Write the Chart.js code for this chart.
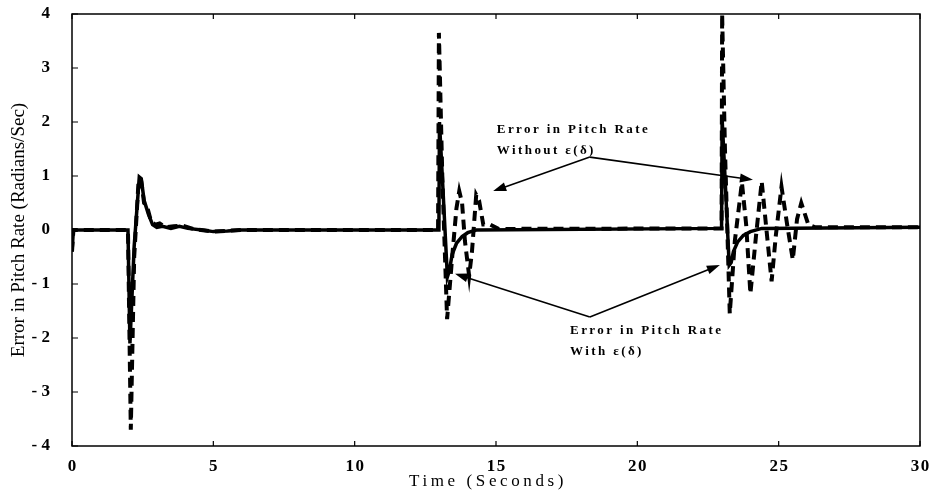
<!DOCTYPE html>
<html>
<head>
<meta charset="utf-8">
<script src="https://cdn.jsdelivr.net/npm/chart.js@4.4.1/dist/chart.umd.min.js"></script>
<style>
  html, body { margin: 0; padding: 0; background: #fff; }
  #wrap { width: 930px; height: 495px; }
</style>
</head>
<body>
<div id="wrap"><canvas id="pitchChart"></canvas></div>
<script>
// error in pitch rate, with the epsilon(delta) term (solid)
const timeWith = [0, 0.05, 1.98, 2.05, 2.2, 2.38, 2.45, 2.55, 2.7, 2.85, 3.0, 3.2, 3.5, 3.8, 4.1, 4.6, 5.0, 5.5, 6.0,
  12.98, 13.0, 13.1, 13.28, 13.35, 13.45, 13.6, 13.8, 14.0, 14.3,
  22.98, 23.0, 23.1, 23.25, 23.32, 23.4, 23.55, 23.75, 24.0, 24.4, 30];
const errWith = [-0.4, 0, 0, -2.1, -0.3, 0.98, 0.95, 0.55, 0.3, 0.1, 0.05, 0.07, 0.03, 0.07, 0.03, 0, -0.03, -0.02, 0,
  0, 2.0, 1.0, -0.87, -0.75, -0.45, -0.25, -0.12, -0.05, 0,
  0.03, 2.05, 1.0, -0.65, -0.6, -0.4, -0.22, -0.1, -0.03, 0.03, 0.05];

// error in pitch rate, without the epsilon(delta) term (dashed)
const timeWithout = [0, 0.05, 1.98, 2.08, 2.2, 2.36, 2.45, 2.55, 2.65, 2.8, 2.95, 3.1, 3.3, 3.6, 3.9, 4.3, 5.0, 6.0,
  12.95, 12.98, 13.1, 13.27, 13.45, 13.6, 13.7, 13.8, 13.9, 14.05, 14.15, 14.3, 14.4, 14.55, 14.8, 15.1,
  22.98, 23.0, 23.1, 23.27, 23.45, 23.7, 23.85, 24.0, 24.2, 24.4, 24.55, 24.75, 24.9, 25.1, 25.3, 25.5, 25.65, 25.8, 26.05, 26.3, 30];
const errWithout = [-0.4, 0, 0, -3.7, -0.5, 0.95, 0.9, 0.5, 0.45, 0.15, 0.1, 0.12, 0.05, 0.07, 0.08, 0.02, -0.03, 0,
  0, 3.65, 1.0, -1.65, -0.5, 0.4, 0.72, 0.5, -0.2, -0.85, -0.4, 0.65, 0.55, 0.1, 0.1, 0.02,
  0.03, 4.0, 1.5, -1.55, -0.2, 0.88, 0.1, -1.18, -0.1, 0.9, 0.1, -0.95, -0.1, 0.8, 0.1, -0.55, 0.2, 0.5, 0.1, 0.05, 0.05];

const xTicks = [0, 5, 10, 15, 20, 25, 30];
const yTicks = [-4, -3, -2, -1, 0, 1, 2, 3, 4];

const toPoints = (xs, ys) => xs.map((x, i) => ({ x: x, y: ys[i] }));

// callouts, anchored in data units
const callouts = [
  { lines: ['Error in Pitch Rate', 'Without \u03b5(\u03b4)'], textAt: [15.03, 1.85], from: [18.32, 1.35],
    to: [[14.9, 0.72], [24.09, 0.93]] },
  { lines: ['Error in Pitch Rate', 'With \u03b5(\u03b4)'], textAt: [17.62, -1.87], from: [18.32, -1.61],
    to: [[13.55, -0.81], [22.92, -0.65]] }
];

const frameAndNotes = {
  id: 'frameAndNotes',
  afterDatasetsDraw(chart) {
    const ctx = chart.ctx;
    const a = chart.chartArea;
    const xs = chart.scales.x, ys = chart.scales.y;
    ctx.save();
    ctx.strokeStyle = '#000';
    ctx.fillStyle = '#000';
    ctx.lineWidth = 1.5;
    ctx.strokeRect(a.left, a.top, a.right - a.left, a.bottom - a.top);
    // inward ticks
    ctx.lineWidth = 1.2;
    ctx.beginPath();
    xTicks.forEach(v => {
      const px = xs.getPixelForValue(v);
      ctx.moveTo(px, a.bottom); ctx.lineTo(px, a.bottom - 5);
      ctx.moveTo(px, a.top); ctx.lineTo(px, a.top + 5);
    });
    yTicks.forEach(v => {
      const py = ys.getPixelForValue(v);
      ctx.moveTo(a.left, py); ctx.lineTo(a.left + 6, py);
    });
    ctx.stroke();

    // callouts
    ctx.lineWidth = 1.6;
    callouts.forEach(c => {
      const fx = xs.getPixelForValue(c.from[0]), fy = ys.getPixelForValue(c.from[1]);
      c.to.forEach(t => {
        const tx = xs.getPixelForValue(t[0]), ty = ys.getPixelForValue(t[1]);
        const ang = Math.atan2(ty - fy, tx - fx);
        ctx.beginPath();
        ctx.moveTo(fx, fy);
        ctx.lineTo(tx - 8 * Math.cos(ang), ty - 8 * Math.sin(ang));
        ctx.stroke();
        ctx.beginPath();
        ctx.moveTo(tx, ty);
        ctx.lineTo(tx - 13 * Math.cos(ang) + 4.5 * Math.sin(ang), ty - 13 * Math.sin(ang) - 4.5 * Math.cos(ang));
        ctx.lineTo(tx - 13 * Math.cos(ang) - 4.5 * Math.sin(ang), ty - 13 * Math.sin(ang) + 4.5 * Math.cos(ang));
        ctx.closePath();
        ctx.fill();
      });
      ctx.font = 'bold 13px "Liberation Serif", serif';
      ctx.letterSpacing = '2.4px';
      ctx.textBaseline = 'middle';
      ctx.textAlign = 'left';
      const lx = xs.getPixelForValue(c.textAt[0]), ly = ys.getPixelForValue(c.textAt[1]);
      c.lines.forEach((s, i) => ctx.fillText(s, lx, ly + i * 21));
    });

    // x axis title, letter spaced like the original
    ctx.font = '17px "Liberation Serif", serif';
    ctx.letterSpacing = '3.6px';
    ctx.textAlign = 'center';
    ctx.textBaseline = 'middle';
    ctx.fillText('Time (Seconds)', (a.left + a.right) / 2 - 8, a.bottom + 36);
    ctx.restore();
  }
};

new Chart(document.getElementById('pitchChart'), {
  type: 'line',
  data: {
    datasets: [
      {
        label: 'With \u03b5(\u03b4)',
        data: toPoints(timeWith, errWith),
        borderColor: '#000',
        borderWidth: 3.5,
        pointRadius: 0,
        tension: 0,
        fill: false
      },
      {
        label: 'Without \u03b5(\u03b4)',
        data: toPoints(timeWithout, errWithout),
        borderColor: '#000',
        borderWidth: 4,
        borderDash: [10, 6],
        pointRadius: 0,
        tension: 0,
        fill: false
      }
    ]
  },
  options: {
    responsive: true,
    maintainAspectRatio: false,
    animation: false,
    layout: { padding: { left: 0, right: 0, top: 0, bottom: 0 } },
    plugins: {
      legend: { display: false },
      tooltip: { enabled: false }
    },
    scales: {
      x: {
        type: 'linear',
        min: 0,
        max: 30,
        afterBuildTicks: s => { s.ticks = xTicks.map(v => ({ value: v })); },
        afterFit: s => { s.height = 49; s.paddingRight = 10; s.paddingLeft = 0; },
        grid: { display: false, drawTicks: false },
        border: { display: false },
        ticks: {
          color: '#000',
          padding: 10,
          maxRotation: 0,
          font: { family: '"Liberation Serif", serif', size: 17, weight: 'bold' },
          callback: v => String(v).split('').join('\u200a')
        }
      },
      y: {
        type: 'linear',
        min: -4,
        max: 4,
        afterBuildTicks: s => { s.ticks = yTicks.map(v => ({ value: v })); },
        afterFit: s => { s.width = 72; s.paddingTop = 14; s.paddingBottom = 0; },
        grid: { display: false, drawTicks: false },
        border: { display: false },
        title: {
          display: true,
          text: 'Error in Pitch Rate (Radians/Sec)',
          color: '#000',
          padding: { top: 8, bottom: 0 },
          font: { family: '"Liberation Serif", serif', size: 19 }
        },
        ticks: {
          color: '#000',
          padding: 22,
          font: { family: '"Liberation Serif", serif', size: 17, weight: 'bold' },
          callback: v => (v < 0 ? '- ' + Math.abs(v) : String(v))
        }
      }
    }
  },
  plugins: [frameAndNotes]
});
</script>
</body>
</html>
